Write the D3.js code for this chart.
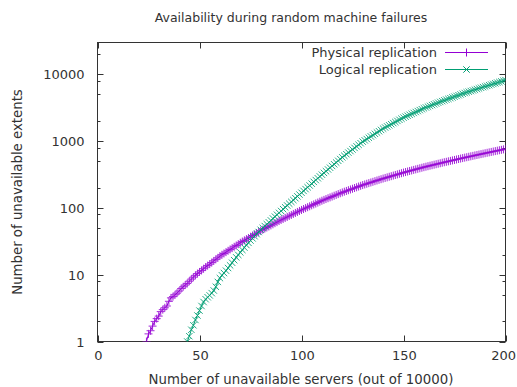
<!DOCTYPE html>
<html><head><meta charset="utf-8">
<script src="https://cdn.jsdelivr.net/npm/d3@7"></script>
<style>body{margin:0;background:#fff}svg{display:block}text{font-family:"DejaVu Sans",sans-serif;fill:#333}</style>
</head><body>
<script>
const title = "Availability during random machine failures";
const xLabel = "Number of unavailable servers (out of 10000)";
const yLabel = "Number of unavailable extents";
const xTicks = [0, 50, 100, 150, 200];
const yTicks = [1, 10, 100, 1000, 10000];
const yMinorMult = [2, 5, 8];
const seriesNames = ["Physical replication", "Logical replication"];
const physicalStart = 24;
const physicalValues = [1,1.3,1.45,1.7,2,2.2,2.4,2.8,3,3.2,3.4,4,4.5,4.7,5,5.3,5.7,6.2,6.6,7,7.4,8,8.6,9.2,9.8,10.4,
11,11.6,12.3,13,13.7,14.4,15.2,16.1,17,17.9,
19,19.9,20.8,21.8,22.8,23.9,25,26.2,27.4,28.7,
30.1,31.4,32.7,34.1,35.5,37,38.6,40.2,41.9,43.7,
45.5,47.2,49,50.9,52.8,54.8,56.9,59.1,61.3,63.7,
66.1,68.4,70.8,73.3,75.9,78.5,81.3,84.1,87.1,90.1,
93.3,96.3,99.4,102.6,105.9,109.4,112.9,116.5,120.3,124.2,
128.3,132,135.8,139.8,143.8,148,152.3,156.7,161.2,165.9,
170.7,175.1,179.6,184.2,188.9,193.8,198.8,203.9,209.1,214.5,
219.9,224.9,230.1,235.3,240.7,246.2,251.8,257.5,263.4,269.4,
275.4,281.1,286.9,292.9,298.9,305.1,311.4,317.9,324.5,331.2,
338.1,344.4,350.9,357.5,364.2,371.1,378.1,385.2,392.4,399.8,
407.5,414.5,421.6,428.9,436.3,443.8,451.4,459.2,467.1,475.1,
483.2,490.9,498.8,506.8,514.9,523.1,531.5,540,548.6,557.4,
566.4,575.1,583.9,592.8,601.9,611.1,620.4,629.9,639.6,649.4,
659.4,669.2,679.1,689.1,699.3,709.7,720.2,730.8,741.6,752.6,764];
const logicalStart = 44;
const logicalValues = [1,1.2,1.5,1.75,2.1,2.45,2.9,3.4,3.9,4.3,4.6,4.9,5.3,5.8,6.6,7.8,8.9,9.8,10.6,11.5,12.6,13.8,15.1,16.5,18.2,19.8,
21.6,23.5,25.5,27.8,30,32.5,35,37.7,40.5,43.6,
47,50.2,53.5,57.1,60.9,65,69.4,74,79,84.3,
90,95.9,102.1,108.7,115.7,123.3,131.3,139.8,148.9,158.6,
169,179.9,191.4,203.7,216.8,230.8,245.6,261.4,278.2,296.1,
315,334.4,355,376.8,400,424.6,450.7,478.4,507.8,539,
572,603.8,637.4,672.8,710.2,749.7,791.4,835.4,881.8,930.8,
983,1028,1075,1125,1176,1230,1287,1346,1408,1472,
1540,1600,1662,1726,1793,1862,1934,2009,2087,2168,
2252,2326,2402,2481,2562,2646,2733,2822,2915,3010,
3109,3195,3283,3373,3466,3562,3660,3761,3864,3971,
4080,4185,4293,4403,4516,4632,4751,4873,4999,5127,
5260,5380,5502,5628,5756,5887,6022,6159,6299,6443,
6588,6734,6882,7034,7190,7349,7511,7677,7847,8020,8200];
const colors = ["#9400d3", "#009e73"];

const W = 517, H = 387;
const m = {left: 97.5, right: 505.5, top: 42.5, bottom: 341.5};
const svg = d3.select("body").append("svg").attr("width", W).attr("height", H);
const x = d3.scaleLinear().domain([0, 200]).range([m.left, m.right]);
const y = d3.scaleLog().domain([1, 30000]).range([m.bottom, m.top]);

svg.append("clipPath").attr("id", "c").append("rect")
  .attr("x", m.left).attr("y", m.top).attr("width", m.right - m.left).attr("height", m.bottom - m.top);

const minorY = [];
yTicks.forEach(t => yMinorMult.forEach(k => { const v = t * k; if (v <= 30000) minorY.push(v); }));
const ax = svg.append("g").attr("stroke", "#333").attr("stroke-width", 1);
minorY.forEach(v => {
  const yy = Math.round(y(v)) + 0.5;
  ax.append("line").attr("x1", m.left).attr("x2", m.left + 3).attr("y1", yy).attr("y2", yy);
  ax.append("line").attr("x1", m.right).attr("x2", m.right - 3).attr("y1", yy).attr("y2", yy);
});
yTicks.forEach(v => {
  const yy = Math.round(y(v)) + 0.5;
  ax.append("line").attr("x1", m.left).attr("x2", m.left + 6).attr("y1", yy).attr("y2", yy);
  ax.append("line").attr("x1", m.right).attr("x2", m.right - 6).attr("y1", yy).attr("y2", yy);
  svg.append("text").attr("x", m.left - 13).attr("y", yy).attr("dy", "0.35em")
    .attr("text-anchor", "end").attr("font-size", 13).text(v);
});
xTicks.forEach((v, i) => {
  const xx = Math.round(x(v)) + 0.5;
  ax.append("line").attr("x1", xx).attr("x2", xx).attr("y1", m.bottom).attr("y2", m.bottom - 6);
  ax.append("line").attr("x1", xx).attr("x2", xx).attr("y1", m.top).attr("y2", m.top + 6);
  const last = i === xTicks.length - 1;
  svg.append("text").attr("x", last ? W - 1 : xx).attr("y", 360)
    .attr("text-anchor", last ? "end" : "middle").attr("font-size", 13).text(v);
});
svg.append("rect").attr("x", m.left).attr("y", m.top).attr("width", m.right - m.left).attr("height", m.bottom - m.top)
  .attr("fill", "none").attr("stroke", "#333");

svg.append("text").attr("x", 291).attr("y", 22).attr("text-anchor", "middle").attr("font-size", 12.5).text(title);
svg.append("text").attr("x", 301).attr("y", 384).attr("text-anchor", "middle").attr("font-size", 13.3).text(xLabel);
svg.append("text").attr("transform", "translate(22,192) rotate(-90)").attr("text-anchor", "middle").attr("font-size", 13.3).text(yLabel);

const series = [
  physicalValues.map((v, i) => [physicalStart + i, v]),
  logicalValues.map((v, i) => [logicalStart + i, v])
];
const line = d3.line().x(d => x(d[0])).y(d => y(d[1]));
const plot = svg.append("g").attr("clip-path", "url(#c)");
const r = 4;
function marker(g, type, cx, cy, col) {
  if (type === 0) {
    g.append("path").attr("d", `M${cx - r},${cy}H${cx + r}M${cx},${cy - r}V${cy + r}`).attr("stroke", col).attr("fill", "none");
  } else {
    const k = r * 0.8;
    g.append("path").attr("d", `M${cx - k},${cy - k}L${cx + k},${cy + k}M${cx - k},${cy + k}L${cx + k},${cy - k}`).attr("stroke", col).attr("fill", "none");
  }
}
series.forEach((s, i) => {
  plot.append("path").datum(s).attr("d", line).attr("fill", "none").attr("stroke", colors[i]).attr("stroke-width", 1);
  const g = plot.append("g").attr("opacity", 0.85);
  s.forEach(d => marker(g, i, x(d[0]), y(d[1]), colors[i]));
});

seriesNames.forEach((n, i) => {
  const ly = 52 + i * 17;
  svg.append("text").attr("x", 437).attr("y", ly).attr("dy", "0.35em").attr("text-anchor", "end").attr("font-size", 13).text(n);
  svg.append("line").attr("x1", 445).attr("x2", 488).attr("y1", ly + 0.5).attr("y2", ly + 0.5).attr("stroke", colors[i]);
  marker(svg, i, 466.5, ly + 0.5, colors[i]);
});
</script>
</body></html>
